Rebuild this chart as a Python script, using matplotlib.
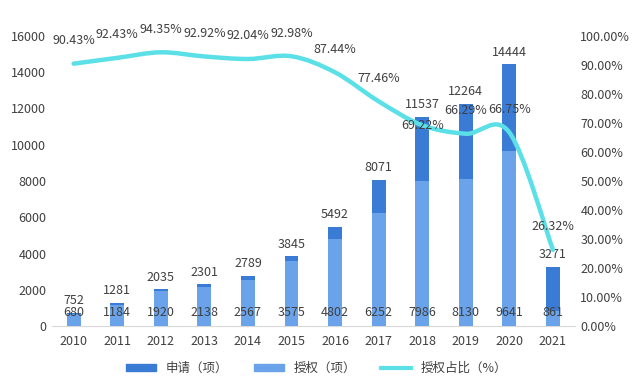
import matplotlib
matplotlib.use("Agg")
import matplotlib.pyplot as plt
import numpy as np
from matplotlib.path import Path
from matplotlib.patches import PathPatch, Patch
from matplotlib.lines import Line2D

plt.rcParams['font.family'] = ['Noto Sans CJK SC', 'DejaVu Sans']

years = ['2010', '2011', '2012', '2013', '2014', '2015', '2016', '2017',
         '2018', '2019', '2020', '2021']
applied = [752, 1281, 2035, 2301, 2789, 3845, 5492, 8071, 11537, 12264, 14444, 3271]
granted = [680, 1184, 1920, 2138, 2567, 3575, 4802, 6252, 7986, 8130, 9641, 861]
ratio = [90.43, 92.43, 94.35, 92.92, 92.04, 92.98, 87.44, 77.46, 69.22, 66.29, 66.75, 26.32]

dark = '#3a7bd5'
light = '#6aa3e9'
cyan = '#5ae0e6'
txt = '#404040'
fs = 9

fig = plt.figure(figsize=(6.4, 3.86), dpi=100)
ax = fig.add_axes([0.081, 0.155, 0.817, 0.752])
ax2 = ax.twinx()

x = np.arange(len(years))
w = 0.32
ax.bar(x, applied, w, color=dark, zorder=2)
ax.bar(x, granted, w, color=light, zorder=3)

for i in range(len(years)):
    ax.annotate(str(applied[i]), (x[i], applied[i]), xytext=(0, 4),
                textcoords='offset points', ha='center', va='bottom',
                fontsize=fs, color=txt, zorder=5)
    ax.annotate(str(granted[i]), (x[i], 0), xytext=(0, 5),
                textcoords='offset points', ha='center', va='bottom',
                fontsize=fs, color=txt, zorder=5)

ax.set_xlim(-0.5, len(years) - 0.5)
ax.set_ylim(0, 16000)
ax.set_yticks(range(0, 16001, 2000))
ax.set_xticks(x)
ax.set_xticklabels(years)
ax.tick_params(axis='both', length=0, labelsize=fs, colors=txt)
ax.tick_params(axis='x', pad=6)
ax.tick_params(axis='y', pad=4)
for s in ['top', 'right', 'left']:
    ax.spines[s].set_visible(False)
ax.spines['bottom'].set_color('#d9d9d9')

# smooth line via Catmull-Rom bezier
pts = np.column_stack([x, ratio]).astype(float)
verts = [tuple(pts[0])]
codes = [Path.MOVETO]
n = len(pts)
for i in range(n - 1):
    p0 = pts[max(i - 1, 0)]
    p1 = pts[i]
    p2 = pts[i + 1]
    p3 = pts[min(i + 2, n - 1)]
    c1 = p1 + (p2 - p0) / 6
    c2 = p2 - (p3 - p1) / 6
    verts += [tuple(c1), tuple(c2), tuple(p2)]
    codes += [Path.CURVE4] * 3
ax2.add_patch(PathPatch(Path(verts, codes), fill=False, edgecolor=cyan,
                        lw=3.2, capstyle='round', zorder=4))

offs = [12, 12, 12, 12, 12, 12, 12, 12, -5, 12, 12, 12]
for i in range(n):
    ax2.annotate('%.2f%%' % ratio[i], (x[i], ratio[i]), xytext=(0, offs[i]),
                 textcoords='offset points', ha='center', va='bottom',
                 fontsize=fs, color=txt, zorder=6)

ax2.set_ylim(0, 100)
ax2.set_yticks(range(0, 101, 10))
ax2.set_yticklabels(['%.2f%%' % v for v in range(0, 101, 10)])
ax2.tick_params(axis='y', length=0, labelsize=fs, colors=txt, pad=4)
for s in ['top', 'right', 'left', 'bottom']:
    ax2.spines[s].set_visible(False)

handles = [Patch(color=dark), Patch(color=light), Line2D([], [], color=cyan, lw=3)]
labels = ['申请（项）', '授权（项）', '授权占比（%）']
fig.legend(handles, labels, loc='lower center', bbox_to_anchor=(0.495, 0.0),
           ncol=3, frameon=False, fontsize=fs, handlelength=2.4,
           handleheight=0.45, columnspacing=2.0, labelcolor=txt)

fig.savefig('out.png', dpi=100)
